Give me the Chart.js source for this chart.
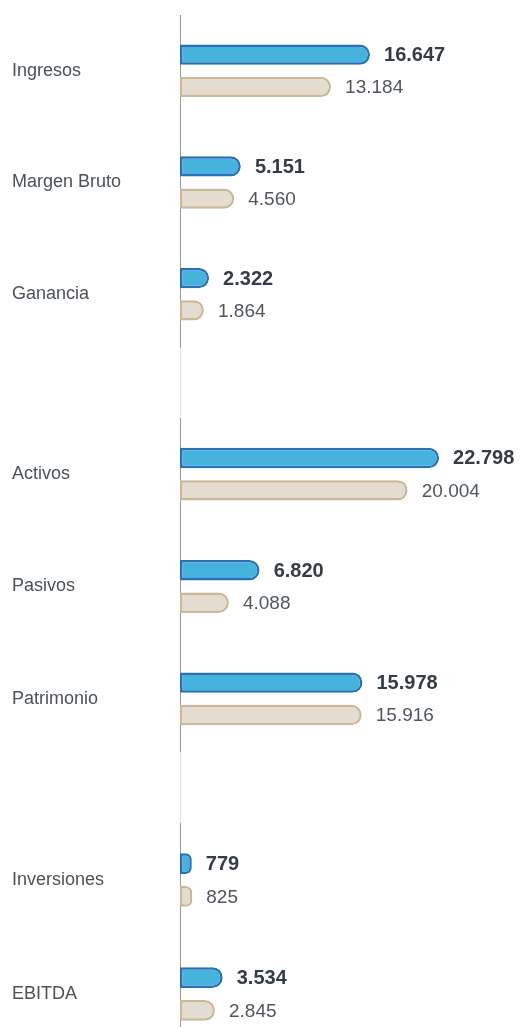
<!DOCTYPE html>
<html>
<head>
<meta charset="utf-8">
<script src="https://cdn.jsdelivr.net/npm/chart.js@4/dist/chart.umd.min.js"></script>
<style>
  html, body { margin: 0; padding: 0; background: #fff; }
  body { width: 521px; height: 1027px; overflow: hidden; position: relative; }
  .bloque { position: absolute; left: 0; width: 521px; }
  .separador { position: absolute; left: 180px; width: 1px; background: #e4e4e4; }
</style>
</head>
<body>
<div class="bloque" style="top:0;height:350px"><canvas id="grafico1"></canvas></div>
<div class="separador" style="top:348px;height:70px"></div>
<div class="bloque" style="top:418px;height:337px"><canvas id="grafico2"></canvas></div>
<div class="separador" style="top:752px;height:71px"></div>
<div class="bloque" style="top:823px;height:228px"><canvas id="grafico3"></canvas></div>

<script>
// resultados
const categorias1 = ["Ingresos", "Margen Bruto", "Ganancia"];
const actual1 = [16647, 5151, 2322];
const anterior1 = [13184, 4560, 1864];

// balance
const categorias2 = ["Activos", "Pasivos", "Patrimonio"];
const actual2 = [22798, 6820, 15978];
const anterior2 = [20004, 4088, 15916];

// otros
const categorias3 = ["Inversiones", "EBITDA"];
const actual3 = [779, 3534];
const anterior3 = [825, 2845];

const inicioEje = -270;
const finEje = 30000;

function formato(v) {
    return String(v).replace(/\B(?=(\d{3})+(?!\d))/g, ".");
}

// numeros al final de cada barra
const etiquetasValor = {
    id: "etiquetasValor",
    afterDatasetsDraw(chart) {
        const ctx = chart.ctx;
        chart.data.datasets.forEach((ds, i) => {
            const meta = chart.getDatasetMeta(i);
            meta.data.forEach((bar, j) => {
                ctx.save();
                ctx.font = i === 0 ? 'bold 20px "Liberation Sans", Arial, sans-serif' : '19px "Liberation Sans", Arial, sans-serif';
                ctx.fillStyle = i === 0 ? "#333c47" : "#4f565d";
                ctx.textAlign = "left";
                ctx.textBaseline = "middle";
                ctx.fillText(formato(ds.data[j]), bar.x + 14, bar.y + 1);
                ctx.restore();
            });
        });
    }
};

function crearGrafico(id, categorias, actual, anterior, arriba) {
    const ctx = document.getElementById(id).getContext("2d");
    const estiloBarra = {
        base: inicioEje,
        borderWidth: 2.5,
        borderSkipped: false,
        borderRadius: { topLeft: 0, bottomLeft: 0, topRight: 10, bottomRight: 10 },
        categoryPercentage: 0.577,
        barPercentage: 0.63,
    };
    return new Chart(ctx, {
        type: "bar",
        data: {
            labels: categorias,
            datasets: [
                Object.assign({ data: actual, backgroundColor: "#46b3dc", borderColor: "#2b6fb6" }, estiloBarra),
                Object.assign({ data: anterior, backgroundColor: "#e3dcd0", borderColor: "#ccb798" }, estiloBarra),
            ],
        },
        options: {
            indexAxis: "y",
            responsive: true,
            maintainAspectRatio: false,
            animation: false,
            layout: { padding: { top: arriba, left: 12, right: 1, bottom: 0 } },
            plugins: {
                legend: { display: false },
                tooltip: { enabled: false },
            },
            scales: {
                x: {
                    display: false,
                    min: inicioEje,
                    max: finEje,
                },
                y: {
                    grid: { display: false },
                    border: { display: true, color: "#9a9a9a", width: 1 },
                    ticks: {
                        crossAlign: "far",
                        color: "#4b5259",
                        font: { family: '"Liberation Sans", Arial, sans-serif', size: 18 },
                    },
                    afterFit(scale) {
                        scale.width = 168;
                        scale.paddingTop = 0;
                        scale.paddingBottom = 0;
                    },
                },
            },
        },
        plugins: [etiquetasValor],
    });
}

crearGrafico("grafico1", categorias1, actual1, anterior1, 15);
crearGrafico("grafico2", categorias2, actual2, anterior2, 0);
crearGrafico("grafico3", categorias3, actual3, anterior3, 0);
</script>
</body>
</html>
